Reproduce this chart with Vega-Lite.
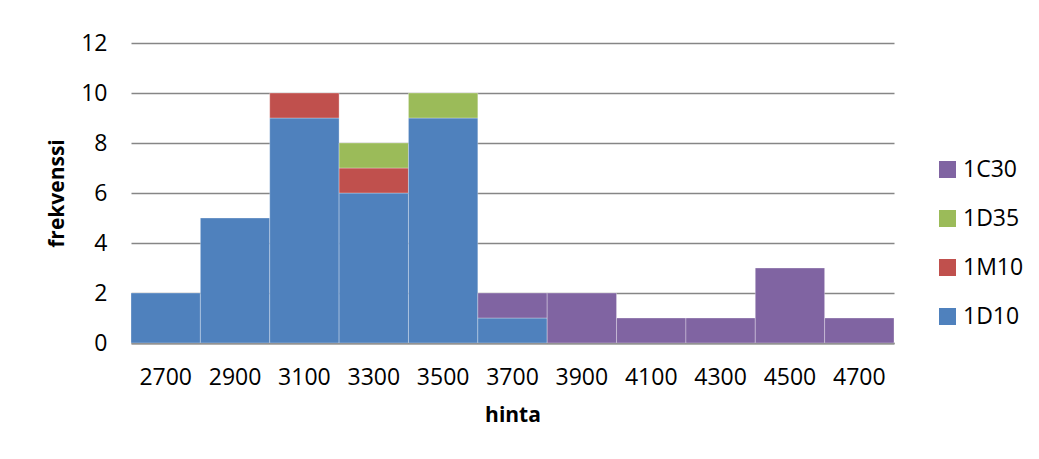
{
  "$schema": "https://vega.github.io/schema/vega-lite/v6.json",
  "autosize": "none",
  "width": 763,
  "height": 300,
  "padding": {"left": 131, "top": 43, "right": 145, "bottom": 116},
  "background": "white",
  "data": {
    "values": [
      {"hinta": "2700", "sarja": "1D10", "frekvenssi": 2},
      {"hinta": "2900", "sarja": "1D10", "frekvenssi": 5},
      {"hinta": "3100", "sarja": "1D10", "frekvenssi": 9},
      {"hinta": "3100", "sarja": "1M10", "frekvenssi": 1},
      {"hinta": "3300", "sarja": "1D10", "frekvenssi": 6},
      {"hinta": "3300", "sarja": "1M10", "frekvenssi": 1},
      {"hinta": "3300", "sarja": "1D35", "frekvenssi": 1},
      {"hinta": "3500", "sarja": "1D10", "frekvenssi": 9},
      {"hinta": "3500", "sarja": "1D35", "frekvenssi": 1},
      {"hinta": "3700", "sarja": "1D10", "frekvenssi": 1},
      {"hinta": "3700", "sarja": "1C30", "frekvenssi": 1},
      {"hinta": "3900", "sarja": "1C30", "frekvenssi": 2},
      {"hinta": "4100", "sarja": "1C30", "frekvenssi": 1},
      {"hinta": "4300", "sarja": "1C30", "frekvenssi": 1},
      {"hinta": "4500", "sarja": "1C30", "frekvenssi": 3},
      {"hinta": "4700", "sarja": "1C30", "frekvenssi": 1}
    ]
  },
  "transform": [
    {"calculate": "indexof(['1D10', '1M10', '1D35', '1C30'], datum.sarja)", "as": "pinojarjestys"}
  ],
  "mark": {"type": "bar", "stroke": "#ffffff", "strokeWidth": 1, "strokeOpacity": 0.3},
  "encoding": {
    "x": {
      "field": "hinta",
      "type": "ordinal",
      "title": "hinta",
      "scale": {"paddingInner": 0, "paddingOuter": 0},
      "axis": {
        "labelAngle": 0,
        "ticks": false,
        "labelPadding": 23,
        "domainColor": "#7f7f7f",
        "domainWidth": 2,
        "titlePadding": 15
      }
    },
    "y": {
      "field": "frekvenssi",
      "type": "quantitative",
      "stack": "zero",
      "title": "frekvenssi",
      "scale": {"domain": [0, 12], "nice": false},
      "axis": {
        "values": [0, 2, 4, 6, 8, 10, 12],
        "domain": false,
        "ticks": false,
        "grid": true,
        "gridColor": "#868686",
        "gridWidth": 1.3,
        "labelPadding": 24,
        "titlePadding": 13
      }
    },
    "order": {"field": "pinojarjestys", "type": "quantitative", "sort": "ascending"},
    "color": {
      "field": "sarja",
      "type": "nominal",
      "scale": {
        "domain": ["1D10", "1M10", "1D35", "1C30"],
        "range": ["#4f81bd", "#c0504d", "#9bbb59", "#8064a2"]
      },
      "legend": {
        "title": null,
        "values": ["1C30", "1D35", "1M10", "1D10"],
        "orient": "none",
        "legendX": 805,
        "legendY": 115,
        "padding": 0,
        "symbolType": "square",
        "symbolSize": 289,
        "symbolStrokeWidth": 0,
        "symbolOpacity": 1,
        "labelFontSize": 23,
        "labelOffset": 4,
        "rowPadding": 25
      }
    }
  },
  "config": {
    "font": "Open Sans",
    "view": {"stroke": null},
    "axis": {
      "labelFont": "Open Sans",
      "labelFontSize": 23,
      "labelColor": "#000000",
      "titleFont": "Open Sans",
      "titleFontSize": 21,
      "titleFontWeight": "bold",
      "titleColor": "#000000"
    },
    "legend": {"labelFont": "Open Sans", "labelColor": "#000000"}
  }
}
